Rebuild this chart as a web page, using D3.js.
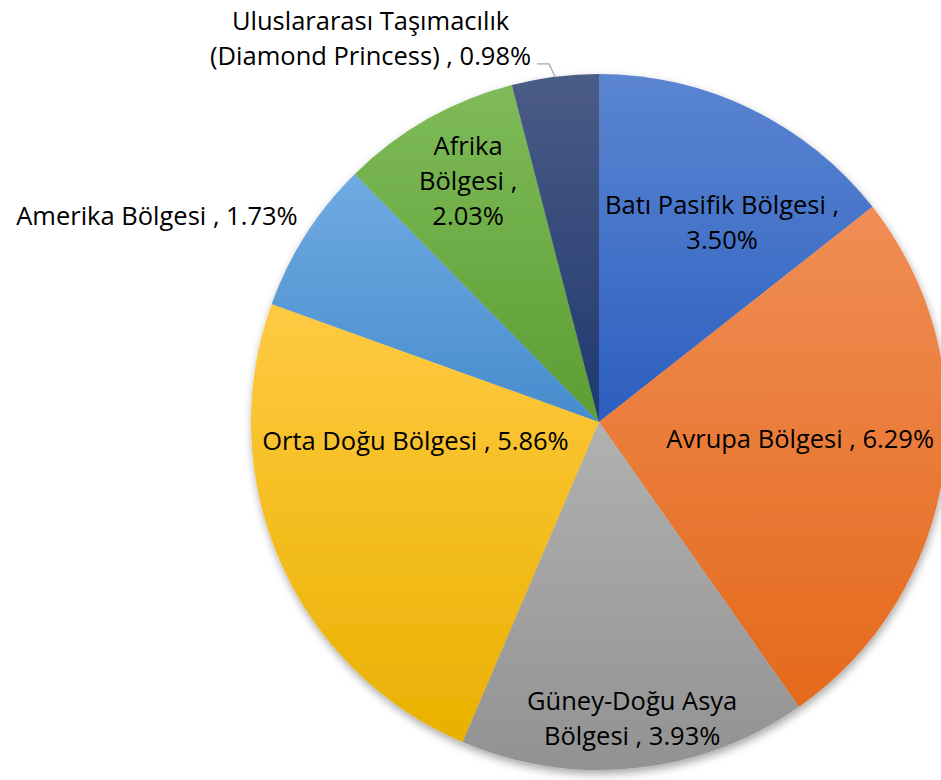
<!DOCTYPE html>
<html>
<head>
<meta charset="utf-8">
<script src="https://cdn.jsdelivr.net/npm/d3@7"></script>
<style>
  body { margin: 0; background: #fff; }
  text { font-family: "Open Sans", "Noto Sans", sans-serif; font-size: 25.5px; fill: #000; }
</style>
</head>
<body>
<div id="chart"></div>
<script>
/* DATA */
const categories = ["Batı Pasifik Bölgesi", "Avrupa Bölgesi", "Güney-Doğu Asya Bölgesi", "Orta Doğu Bölgesi",
  "Amerika Bölgesi", "Afrika Bölgesi", "Uluslararası Taşımacılık (Diamond Princess)"]
const values = [3.50, 6.29, 3.93, 5.86, 1.73, 2.03, 0.98]
// how each label breaks into lines (value goes on the end)
const labelLines = [
  ["Batı Pasifik Bölgesi ,", "{v}"],
  ["Avrupa Bölgesi , {v}"],
  ["Güney-Doğu Asya", "Bölgesi , {v}"],
  ["Orta Doğu Bölgesi , {v}"],
  ["Amerika Bölgesi , {v}"],
  ["Afrika", "Bölgesi ,", "{v}"],
  ["Uluslararası Taşımacılık", "(Diamond Princess) , {v}"]
]
const colorsTop = ["#5b85d1", "#f08d55", "#b1b1b1", "#ffca42", "#70aae2", "#7fbb59", "#4b5c86"]
const colorsBottom = ["#2c5fbf", "#e4691b", "#929292", "#e9b100", "#478ccd", "#5c9d33", "#1f386f"]

/* CONSTANTS */
const width = 941
const height = 780
const cx = 599, cy = 422, radius = 348
const lineH = 35
// label placement: [angle nudge in degrees, radius fraction]
const labelPlace = [[5.7, 0.675], [-3.8, 0.58], [-0.4, 0.855], [18, 0.53], [1.8, 1.05], [1.1, 0.79], [0, 1]]

const svg = d3.select("#chart").append("svg")
  .attr("width", width)
  .attr("height", height)

const defs = svg.append("defs")
const filter = defs.append("filter").attr("id", "shadow")
  .attr("x", "-10%").attr("y", "-10%").attr("width", "120%").attr("height", "120%")
filter.append("feDropShadow")
  .attr("dx", 1).attr("dy", 4).attr("stdDeviation", 4)
  .attr("flood-color", "#000").attr("flood-opacity", 0.35)

values.forEach((v, i) => {
  const g = defs.append("linearGradient").attr("id", "grad" + i)
    .attr("x1", 0).attr("y1", 0).attr("x2", 0).attr("y2", 1)
  g.append("stop").attr("offset", "0%").attr("stop-color", colorsTop[i])
  g.append("stop").attr("offset", "100%").attr("stop-color", colorsBottom[i])
})

const data = categories.map((c, i) => ({ name: c, value: values[i], idx: i }))

const pie = d3.pie().value(d => d.value).sort(null)
const arcs = pie(data)
const arc = d3.arc().innerRadius(0).outerRadius(radius)

const gPie = svg.append("g")
  .attr("transform", `translate(${cx},${cy})`)
  .attr("filter", "url(#shadow)")

gPie.selectAll("path")
  .data(arcs)
  .join("path")
  .attr("d", arc)
  .attr("fill", d => `url(#grad${d.data.idx})`)

const fmt = d => d3.format(".2f")(d) + "%"
const polar = (ang, r) => [Math.sin(ang) * r, -Math.cos(ang) * r]

const gLab = svg.append("g").attr("transform", `translate(${cx},${cy})`)

arcs.forEach((d, i) => {
  const mid = (d.startAngle + d.endAngle) / 2
  const lines = labelLines[i].map(s => s.replace("{v}", fmt(d.data.value)))
  const [nudge, k] = labelPlace[i]

  if (i === 6) {
    // outside label with leader line
    const p0 = polar(mid, radius)
    const p1 = [p0[0] - 6, p0[1] - 13]
    const p2 = [p1[0] - 12, p1[1]]
    gLab.append("polyline")
      .attr("points", [p0, p1, p2].map(p => p.join(",")).join(" "))
      .attr("fill", "none").attr("stroke", "#a6a6a6").attr("stroke-width", 1.3)
    const t = gLab.append("text").attr("text-anchor", "middle")
    const tmp = t.append("tspan").text(lines[1])
    const w = tmp.node().getComputedTextLength()
    tmp.remove()
    const xc = p2[0] - 6 - w / 2
    lines.forEach((s, j) => {
      t.append("tspan").attr("x", xc).attr("y", p2[1] - 9 + (j - 1) * lineH)
        .attr("dominant-baseline", "central").text(s)
    })
    return
  }

  const [x, y] = polar(mid + nudge * Math.PI / 180, radius * k)
  const t = gLab.append("text").attr("text-anchor", i === 4 ? "end" : "middle")
  lines.forEach((s, j) => {
    t.append("tspan")
      .attr("x", x)
      .attr("y", y + (j - (lines.length - 1) / 2) * lineH)
      .attr("dominant-baseline", "central")
      .text(s)
  })
})
</script>
</body>
</html>
